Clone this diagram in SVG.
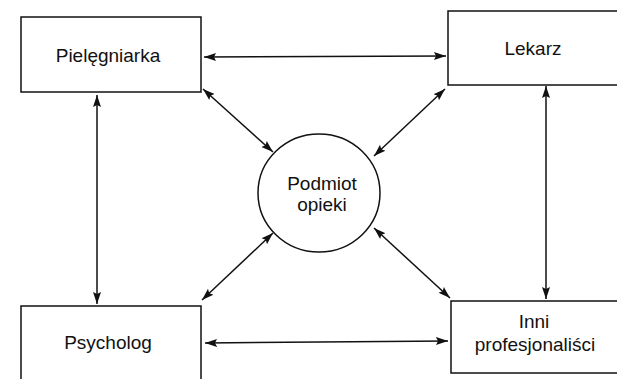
<svg xmlns="http://www.w3.org/2000/svg" width="617" height="379" viewBox="0 0 617 379">
  <style>
    .box { fill: #ffffff; stroke: #111111; stroke-width: 1.5; }
    .lbl { font-family: "Liberation Sans", Arial, sans-serif; font-size: 19px; fill: #111111; text-anchor: middle; }
    .link { stroke: #111111; stroke-width: 1.5; fill: none; marker-start: url(#head); marker-end: url(#head); }
  </style>
  <defs>
    <marker id="head" markerUnits="userSpaceOnUse" markerWidth="14" markerHeight="10" refX="12" refY="5" orient="auto-start-reverse">
      <path d="M0,1 L12,5 L0,9 L2,5 z" fill="#111111"/>
    </marker>
  </defs>
  <rect width="617" height="379" fill="#ffffff"/>

  <!-- two-headed links between the nodes -->
  <g id="connectors">
    <line class="link" x1="204" y1="57" x2="446" y2="56"/>
    <line class="link" x1="205" y1="343" x2="448" y2="341"/>
    <line class="link" x1="97" y1="95" x2="97" y2="304"/>
    <line class="link" x1="546" y1="86" x2="546" y2="299"/>
    <line class="link" x1="203" y1="89" x2="273" y2="152"/>
    <line class="link" x1="445" y1="89" x2="374" y2="156"/>
    <line class="link" x1="202" y1="300" x2="273" y2="233"/>
    <line class="link" x1="374" y1="228" x2="450" y2="298"/>
  </g>

  <g id="pielegniarka">
    <rect class="box" x="21" y="17" width="180" height="75"/>
    <text class="lbl" x="108" y="62">Pielęgniarka</text>
  </g>

  <g id="lekarz">
    <rect class="box" x="448" y="11" width="180" height="74"/>
    <text class="lbl" x="533" y="55">Lekarz</text>
  </g>

  <g id="psycholog">
    <rect class="box" x="21" y="306" width="180" height="80"/>
    <text class="lbl" x="108" y="349">Psycholog</text>
  </g>

  <g id="inni">
    <rect class="box" x="451" y="301" width="180" height="72"/>
    <text class="lbl" x="534" y="328">Inni</text>
    <text class="lbl" x="535" y="351">profesjonaliści</text>
  </g>

  <g id="podmiot">
    <ellipse class="box" cx="319" cy="193" rx="61" ry="59"/>
    <text class="lbl" x="322" y="190">Podmiot</text>
    <text class="lbl" x="322" y="211">opieki</text>
  </g>
</svg>
